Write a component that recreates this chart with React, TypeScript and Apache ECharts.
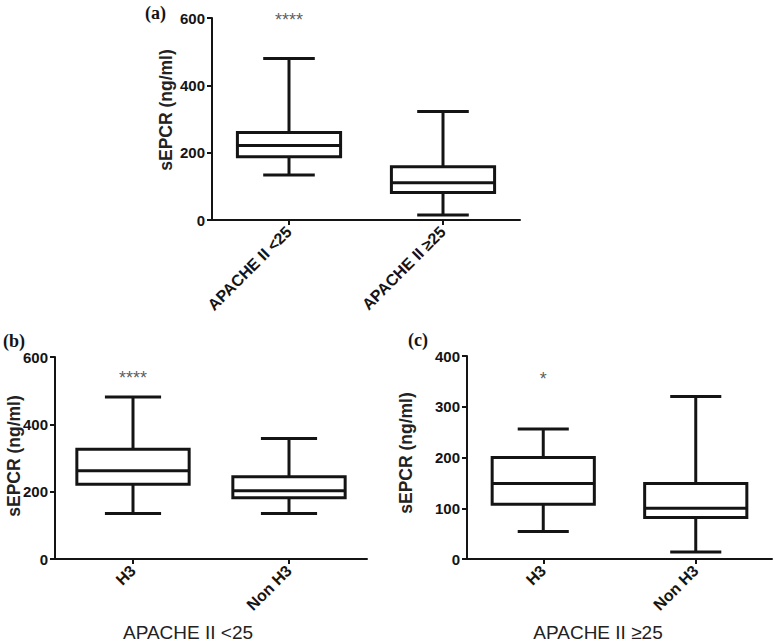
import React, { useEffect, useRef } from "react";
import * as echarts from "echarts";

// ---- data ----
const panelACategories = ["APACHE II <25", "APACHE II ≥25"];
// [min, Q1, median, Q3, max]
const panelAStats = [
  [134, 188, 221, 260, 480],
  [15, 82, 111, 158, 322],
];
const panelBCategories = ["H3", "Non H3"];
const panelBStats = [
  [135, 222, 262, 326, 481],
  [135, 182, 203, 244, 358],
];
const panelCCategories = ["H3", "Non H3"];
const panelCStats = [
  [54, 108, 149, 200, 256],
  [14, 82, 100, 149, 320],
];
const panelLetters = ["(a)", "(b)", "(c)"];
const yAxisMax = [600, 600, 400];
const yAxisInterval = [200, 200, 100];
const sigLabels = ["****", "****", "*"];
const sigValues = [594, 537, 355];
const sigCategoryIndex = [0, 0, 0];
const yAxisTitle = "sEPCR (ng/ml)";
const groupTitles = ["APACHE II <25", "APACHE II ≥25"];

const SANS = "'Liberation Sans', Arial, Helvetica, sans-serif";
const SERIF = "'Liberation Serif', 'Times New Roman', serif";
const INK = "#141414";

const panels = [
  { cats: panelACategories, stats: panelAStats, grid: { left: 212, top: 18, width: 308, height: 202 }, ratio: 0.67 },
  { cats: panelBCategories, stats: panelBStats, grid: { left: 55, top: 357, width: 312, height: 202 }, ratio: 0.72 },
  { cats: panelCCategories, stats: panelCStats, grid: { left: 467, top: 356, width: 305, height: 203 }, ratio: 0.67 },
];

const makeRender = (ratio: number) => (params: any, api: any) => {
  const idx = api.value(0);
  const vals = [1, 2, 3, 4, 5].map((i) => api.value(i));
  const pts = vals.map((v) => api.coord([idx, v]));
  const [pMin, pQ1, pMed, pQ3, pMax] = pts;
  const cx = pMin[0];
  const band = api.size([1, 0])[0];
  const half = (band * ratio) / 2;
  const capHalf = half / 2;
  const style = { stroke: INK, lineWidth: 3, fill: null };
  return {
    type: "group",
    children: [
      { type: "line", shape: { x1: cx, y1: pMax[1], x2: cx, y2: pQ3[1] }, style },
      { type: "line", shape: { x1: cx, y1: pQ1[1], x2: cx, y2: pMin[1] }, style },
      { type: "line", shape: { x1: cx - capHalf, y1: pMax[1], x2: cx + capHalf, y2: pMax[1] }, style },
      { type: "line", shape: { x1: cx - capHalf, y1: pMin[1], x2: cx + capHalf, y2: pMin[1] }, style },
      {
        type: "rect",
        shape: { x: cx - half, y: pQ3[1], width: 2 * half, height: pQ1[1] - pQ3[1] },
        style: { stroke: INK, lineWidth: 3, fill: "#fff" },
      },
      { type: "line", shape: { x1: cx - half, y1: pMed[1], x2: cx + half, y2: pMed[1] }, style },
    ],
  };
};

export default function App() {
  const ref = useRef<HTMLDivElement>(null);
  useEffect(() => {
    if (!ref.current) return;
    const chart = echarts.init(ref.current, null, { renderer: "svg" });
    const option: any = {
      animation: false,
      backgroundColor: "#fff",
      grid: panels.map((p) => ({ ...p.grid, containLabel: false })),
      xAxis: panels.map((p, k) => ({
        type: "category",
        gridIndex: k,
        data: p.cats,
        boundaryGap: true,
        axisLine: { show: true, lineStyle: { color: INK, width: 2 } },
        axisTick: { show: true, alignWithLabel: true, length: 5, lineStyle: { color: INK, width: 2 } },
        axisLabel: {
          rotate: 45,
          margin: 9,
          color: INK,
          fontFamily: SANS,
          fontWeight: "bold",
          fontSize: 16,
        },
        splitLine: { show: false },
      })),
      yAxis: panels.map((p, k) => ({
        type: "value",
        gridIndex: k,
        min: 0,
        max: yAxisMax[k],
        interval: yAxisInterval[k],
        axisLine: { show: true, lineStyle: { color: INK, width: 2 } },
        axisTick: { show: true, length: 5, lineStyle: { color: INK, width: 2 } },
        axisLabel: { margin: 7, color: INK, fontFamily: SANS, fontWeight: "bold", fontSize: 15 },
        splitLine: { show: false },
      })),
      series: [
        ...panels.map((p, k) => ({
          type: "custom",
          xAxisIndex: k,
          yAxisIndex: k,
          data: p.stats.map((s, i) => [i, ...s]),
          encode: { x: 0, y: [1, 2, 3, 4, 5] },
          renderItem: makeRender(p.ratio),
          clip: false,
          silent: true,
        })),
        ...panels.map((p, k) => ({
          type: "scatter",
          xAxisIndex: k,
          yAxisIndex: k,
          data: [[sigCategoryIndex[k], sigValues[k]]],
          symbolSize: 1,
          itemStyle: { color: "transparent" },
          clip: false,
          silent: true,
          label: {
            show: true,
            position: "inside",
            formatter: sigLabels[k],
            color: "#333",
            fontFamily: SANS,
            fontSize: 18,
          },
        })),
      ],
      graphic: [
        { type: "text", left: 145, top: 4, style: { text: panelLetters[0], font: `bold 18px ${SERIF}`, fill: INK } },
        { type: "text", left: 3, top: 332, style: { text: panelLetters[1], font: `bold 18px ${SERIF}`, fill: INK } },
        { type: "text", left: 408, top: 331, style: { text: panelLetters[2], font: `bold 18px ${SERIF}`, fill: INK } },
        {
          type: "text", x: 166, y: 110, rotation: Math.PI / 2,
          style: { text: yAxisTitle, font: `bold 17.5px ${SANS}`, fill: "#222", textAlign: "center", textVerticalAlign: "middle" },
        },
        {
          type: "text", x: 14, y: 456, rotation: Math.PI / 2,
          style: { text: yAxisTitle, font: `bold 17.5px ${SANS}`, fill: "#222", textAlign: "center", textVerticalAlign: "middle" },
        },
        {
          type: "text", x: 406, y: 453, rotation: Math.PI / 2,
          style: { text: yAxisTitle, font: `bold 17.5px ${SANS}`, fill: "#222", textAlign: "center", textVerticalAlign: "middle" },
        },
        {
          type: "text", x: 188, y: 632,
          style: { text: groupTitles[0], font: `19px ${SANS}`, fill: "#222", textAlign: "center", textVerticalAlign: "middle" },
        },
        {
          type: "text", x: 598, y: 632,
          style: { text: groupTitles[1], font: `19px ${SANS}`, fill: "#222", textAlign: "center", textVerticalAlign: "middle" },
        },
      ],
    };
    chart.setOption(option);
    return () => chart.dispose();
  }, []);
  return (
    <div
      ref={ref}
      style={{ position: "fixed", left: 0, top: 0, width: 774, height: 644, background: "#fff" }}
    />
  );
}
